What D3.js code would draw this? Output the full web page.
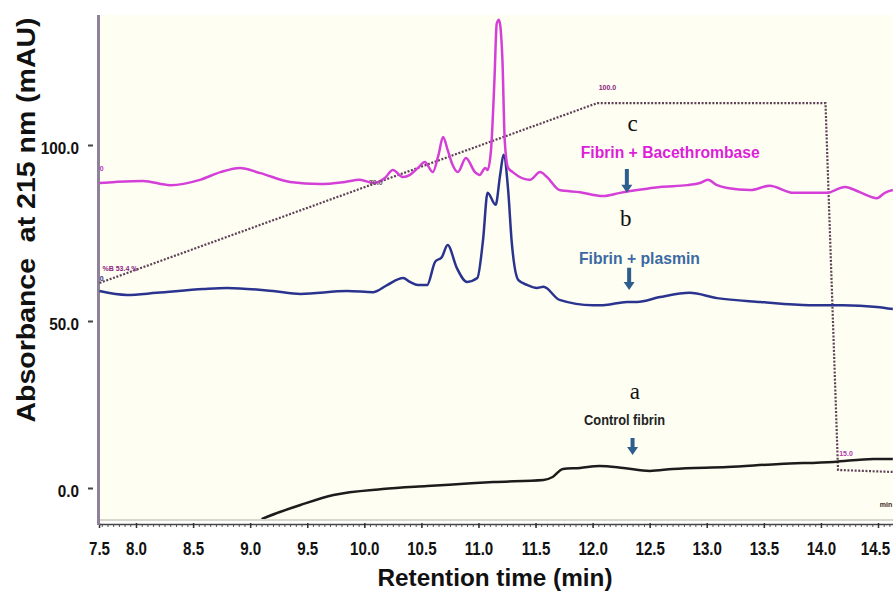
<!DOCTYPE html>
<html>
<head>
<meta charset="utf-8">
<script src="https://cdn.jsdelivr.net/npm/d3@7"></script>
<style>
  body { margin: 0; background: #fff; }
  svg { display: block; }
</style>
</head>
<body>
<div id="chart"></div>
<script>
// Retention time ticks (first tick sits on the axis start but is labelled 7.5)
let xTickValues = [7.676, 8.0, 8.5, 9.0, 9.5, 10.0, 10.5, 11.0, 11.5, 12.0, 12.5, 13.0, 13.5, 14.0, 14.5];
let xTickLabels = ['7.5', '8.0', '8.5', '9.0', '9.5', '10.0', '10.5', '11.0', '11.5', '12.0', '12.5', '13.0', '13.5', '14.0', '14.5'];
let yTickValues = [0, 50, 100];
let yTickLabels = ['0.0', '50.0', '100.0'];

// Trace c: Fibrin + Bacethrombase
let bacTime = [7.68,7.82,8.06,8.30,8.56,8.74,8.91,9.09,9.35,9.61,9.83,9.96,10.08,10.18,10.25,10.34,10.40,10.47,10.53,10.60,10.65,10.69,10.73,10.77,10.82,10.89,10.97,11.01,11.06,11.08,11.11,11.14,11.16,11.18,11.21,11.23,11.26,11.30,11.45,11.54,11.60,11.71,11.89,12.09,12.24,12.39,12.59,12.83,12.94,13.01,13.09,13.18,13.38,13.55,13.76,14.05,14.21,14.34,14.49,14.56,14.63];
let bacAbs = [89.2,89.5,89.8,88.6,90.1,92.3,93.5,92.0,89.5,88.9,89.5,90.1,89.2,90.6,92.9,90.9,91.5,93.5,95.2,92.3,97.2,102.3,98.6,94.6,92.3,96.3,92.3,91.5,93.5,92.9,98.6,118.5,134.5,135.6,124.1,101.4,93.5,92.3,90.1,92.3,90.9,87.2,86.6,85.5,86.4,87.2,88.1,88.6,89.2,90.1,88.6,87.8,87.2,88.4,86.4,86.4,88.1,86.6,84.9,86.4,87.2];

// Trace b: Fibrin + plasmin
let plasTime = [7.68,7.92,8.18,8.59,8.80,9.20,9.44,9.85,10.08,10.20,10.34,10.40,10.47,10.55,10.62,10.68,10.73,10.81,10.90,10.99,11.04,11.08,11.15,11.19,11.22,11.26,11.29,11.35,11.43,11.51,11.57,11.71,12.00,12.09,12.30,12.39,12.59,12.85,13.09,13.47,13.90,14.19,14.49,14.63];
let plasAbs = [58.5,57.4,58.0,59.1,59.4,58.5,57.7,58.5,58.2,60.2,62.2,61.1,60.2,60.2,66.8,68.2,71.6,65.1,61.1,62.2,73.0,86.4,83.0,91.5,97.2,87.2,73.0,61.6,60.2,59.4,59.7,56.0,54.5,54.5,55.4,55.4,56.8,58.0,56.5,55.4,54.5,54.5,54.0,53.4];

// Trace a: Control fibrin
let ctrlTime = [9.10,9.26,9.44,9.73,10.16,10.55,10.84,11.13,11.57,11.65,11.74,11.89,12.06,12.27,12.50,12.70,13.18,13.64,14.11,14.46,14.63];
let ctrlAbs = [-9.3,-7.2,-5.1,-2.1,-0.3,0.6,1.2,1.8,2.4,3.3,5.7,6.0,6.6,6.0,5.1,5.7,6.3,7.2,7.8,8.7,8.7];

// Gradient (%B) trace, drawn on the absorbance scale as in the original
let gradTime = [7.68, 12.04, 14.04, 14.15, 14.63];
let gradLevel = [60.8, 111.9, 111.9, 5.4, 4.8];

// Chart size
let svgWidth = 896;
let svgHeight = 592;

// Plot box
let plot = { left: 99, right: 893, top: 15, bottom: 519 };

let svg = d3.select('#chart')
  .append('svg')
  .attr('width', svgWidth)
  .attr('height', svgHeight)
  .style('font-family', 'Liberation Sans, Arial, sans-serif');

// Scales
let xScale = d3.scaleLinear()
  .domain([8, 14.5])
  .range([136, 878]);

let yScale = d3.scaleLinear()
  .domain([0, 50, 100])
  .range([488, 321, 145]);

// Cream plot background
svg.append('rect')
  .attr('x', plot.left)
  .attr('y', plot.top)
  .attr('width', plot.right - plot.left)
  .attr('height', plot.bottom - plot.top)
  .attr('fill', '#fefef3');

svg.append('line')
  .attr('x1', plot.left).attr('x2', plot.right)
  .attr('y1', plot.bottom + 1).attr('y2', plot.bottom + 1)
  .attr('stroke', '#d6d6cc')
  .attr('stroke-width', 2);

// X axis: minor ticks
let minorTicks = d3.range(7.7, 14.62, 0.05);
svg.append('g')
  .attr('transform', `translate(0, 524)`)
  .call(d3.axisBottom(xScale).tickValues(minorTicks).tickSize(3).tickFormat(''))
  .call(g => g.select('.domain').remove())
  .call(g => g.selectAll('line').attr('stroke', '#555').attr('stroke-width', 1));

// X axis: major ticks and labels
let xAxis = d3.axisBottom(xScale)
  .tickValues(xTickValues)
  .tickSize(5)
  .tickPadding(14)
  .tickFormat((d, i) => xTickLabels[i]);

let lastTick = xTickValues.length - 1;

svg.append('g')
  .attr('transform', `translate(0, 523)`)
  .call(xAxis)
  .call(g => g.select('.domain')
    .attr('d', `M${plot.left},1.5H${plot.right}`)
    .attr('stroke', '#444')
    .attr('stroke-width', 1.5))
  .call(g => g.selectAll('.tick line').attr('stroke', '#333').attr('stroke-width', 1.5))
  .call(g => g.selectAll('text')
    .attr('font-family', 'Liberation Sans, Arial, sans-serif')
    .attr('font-size', '18px')
    .attr('font-weight', 'bold')
    .attr('fill', '#111')
    .attr('dx', (d, i) => i === lastTick ? -3 : 0)
    .attr('lengthAdjust', 'spacingAndGlyphs')
    .attr('textLength', function() { return this.getComputedTextLength() * 0.84; }));

// Y axis
let yAxis = d3.axisLeft(yScale)
  .tickValues(yTickValues)
  .tickSize(5)
  .tickPadding(9)
  .tickFormat((d, i) => yTickLabels[i]);

svg.append('g')
  .attr('transform', `translate(93, 0)`)
  .call(yAxis)
  .call(g => g.select('.domain').remove())
  .call(g => g.selectAll('.tick line').attr('stroke', '#444').attr('stroke-width', 2))
  .call(g => g.selectAll('text')
    .attr('font-family', 'Liberation Sans, Arial, sans-serif')
    .attr('font-size', '17px')
    .attr('font-weight', 'bold')
    .attr('dy', '0.5em')
    .attr('fill', '#111')
    .attr('lengthAdjust', 'spacingAndGlyphs')
    .attr('textLength', function() { return this.getComputedTextLength() * 0.9; }));

// Vertical axis bar
svg.append('line')
  .attr('x1', 98.5).attr('x2', 98.5)
  .attr('y1', plot.top).attr('y2', 525)
  .attr('stroke', '#8d8299')
  .attr('stroke-width', 3);

// Axis titles
svg.append('text')
  .attr('transform', 'translate(35, 220) rotate(-90)')
  .attr('text-anchor', 'middle')
  .attr('font-size', '25px')
  .attr('font-weight', 'bold')
  .attr('fill', '#111')
  .attr('textLength', 405)
  .attr('lengthAdjust', 'spacingAndGlyphs')
  .style('white-space', 'pre')
  .text('Absorbance  at 215 nm (mAU)');

svg.append('text')
  .attr('x', 495)
  .attr('y', 586)
  .attr('text-anchor', 'middle')
  .attr('font-size', '24px')
  .attr('font-weight', 'bold')
  .attr('fill', '#111')
  .attr('textLength', 235)
  .attr('lengthAdjust', 'spacingAndGlyphs')
  .text('Retention time (min)');

// Clip traces to the plot box
svg.append('clipPath')
  .attr('id', 'plotClip')
  .append('rect')
  .attr('x', plot.left).attr('y', plot.top)
  .attr('width', plot.right - plot.left)
  .attr('height', plot.bottom - plot.top);

let traces = svg.append('g').attr('clip-path', 'url(#plotClip)');

let zipSeries = (ts, vs) => ts.map((t, i) => ({ t: t, v: vs[i] }));

let traceLine = d3.line()
  .x(d => xScale(d.t))
  .y(d => yScale(d.v))
  .curve(d3.curveMonotoneX);

// Gradient dotted line
traces.append('path')
  .datum(zipSeries(gradTime, gradLevel))
  .attr('d', d3.line().x(d => xScale(d.t)).y(d => yScale(d.v)))
  .attr('fill', 'none')
  .attr('stroke', '#5e4157')
  .attr('stroke-width', 2.2)
  .attr('stroke-dasharray', '2,1.6');

traces.append('path')
  .datum(zipSeries(ctrlTime, ctrlAbs))
  .attr('d', traceLine)
  .attr('fill', 'none')
  .attr('stroke', '#1c1c1c')
  .attr('stroke-width', 2.5);

traces.append('path')
  .datum(zipSeries(plasTime, plasAbs))
  .attr('d', traceLine)
  .attr('fill', 'none')
  .attr('stroke', '#2a348f')
  .attr('stroke-width', 2.5);

traces.append('path')
  .datum(zipSeries(bacTime, bacAbs))
  .attr('d', traceLine)
  .attr('fill', 'none')
  .attr('stroke', '#d43fd8')
  .attr('stroke-width', 2.5);

// Small instrument labels
let tinyLabels = [
  { t: 12.13, v: 115.6, text: '100.0', color: '#8a237f' },
  { t: 10.10, v: 88.6, text: '70.0', color: '#6a4a6a' },
  { t: 7.86, v: 64.2, text: '%B 53.4 %', color: '#8a237f' },
  { t: 14.22, v: 9.6, text: '15.0', color: '#b03ab0' },
  { t: 14.57, v: -5.8, text: 'min', color: '#3a2a20' },
  { t: 7.70, v: 92.6, text: '0', color: '#c030c0' },
  { t: 7.70, v: 61.4, text: '0', color: '#2a348f' }
];

svg.selectAll('.tiny')
  .data(tinyLabels)
  .enter()
  .append('text')
  .attr('class', 'tiny')
  .attr('x', d => xScale(d.t))
  .attr('y', d => yScale(d.v))
  .attr('text-anchor', 'middle')
  .attr('font-size', '7px')
  .attr('font-weight', 'bold')
  .attr('fill', d => d.color)
  .text(d => d.text);

// Trace letters and names
let letters = [
  { t: 12.35, v: 106.2, text: 'c' },
  { t: 12.29, v: 79.2, text: 'b' },
  { t: 12.37, v: 29.0, text: 'a' }
];

svg.selectAll('.letter')
  .data(letters)
  .enter()
  .append('text')
  .attr('class', 'letter')
  .attr('x', d => xScale(d.t))
  .attr('y', d => yScale(d.v))
  .attr('dy', '0.35em')
  .attr('text-anchor', 'middle')
  .attr('font-family', 'Liberation Serif, Times New Roman, serif')
  .attr('font-size', '23px')
  .attr('fill', '#111')
  .text(d => d.text);

let names = [
  { t: 12.68, v: 97.8, text: 'Fibrin + Bacethrombase', color: '#dc1fd8', size: 16, len: 179 },
  { t: 12.41, v: 68.0, text: 'Fibrin + plasmin', color: '#3c6aa2', size: 17, len: 121 },
  { t: 12.28, v: 20.2, text: 'Control fibrin', color: '#222', size: 14, len: 81 }
];

svg.selectAll('.name')
  .data(names)
  .enter()
  .append('text')
  .attr('class', 'name')
  .attr('x', d => xScale(d.t))
  .attr('y', d => yScale(d.v))
  .attr('dy', '0.35em')
  .attr('text-anchor', 'middle')
  .attr('font-size', d => d.size + 'px')
  .attr('font-weight', 'bold')
  .attr('fill', d => d.color)
  .attr('textLength', d => d.len)
  .attr('lengthAdjust', 'spacingAndGlyphs')
  .text(d => d.text);

// Down arrows pointing at each trace
let arrows = [
  { t: 12.30, top: 93.2, tip: 86.4 },
  { t: 12.32, top: 65.1, tip: 58.8 },
  { t: 12.35, top: 15.0, tip: 9.9 }
];

svg.selectAll('.arrow')
  .data(arrows)
  .enter()
  .append('path')
  .attr('class', 'arrow')
  .attr('d', d => {
    let x = xScale(d.t);
    let y0 = yScale(d.top);
    let y1 = yScale(d.tip);
    return `M${x - 2},${y0}H${x + 2}V${y1 - 8}H${x + 5.5}L${x},${y1}L${x - 5.5},${y1 - 8}H${x - 2}Z`;
  })
  .attr('fill', '#2e5e8e');
</script>
</body>
</html>
